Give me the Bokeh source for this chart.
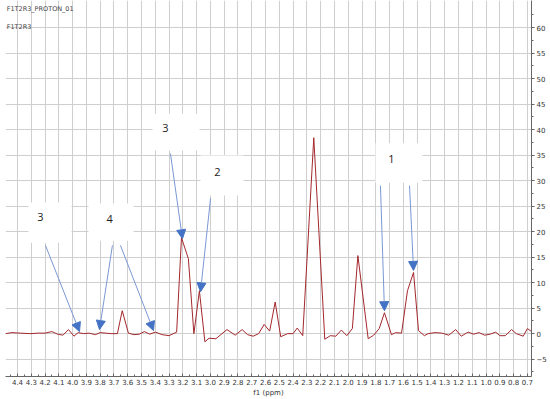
from bokeh.plotting import figure
from bokeh.models import (Range1d, FixedTicker, Label, Arrow, NormalHead, ColumnDataSource,
                          PrintfTickFormatter)
from bokeh.core.properties import value
from bokeh.embed import file_html
from bokeh.resources import INLINE

# ---- spectrum data (f1 ppm, intensity) ----
ppm = [4.487, 4.44, 4.38, 4.31, 4.25, 4.20, 4.15, 4.11, 4.07, 4.03, 3.99, 3.96, 3.92, 3.88,
       3.835, 3.80, 3.76, 3.72, 3.675, 3.64, 3.595, 3.555, 3.515, 3.48, 3.44, 3.40, 3.35,
       3.30, 3.245, 3.21, 3.16, 3.12, 3.08, 3.04, 3.01, 2.96, 2.88, 2.82, 2.77, 2.73, 2.69,
       2.65, 2.61, 2.57, 2.53, 2.49, 2.44, 2.40, 2.37, 2.33, 2.25, 2.17, 2.13, 2.09, 2.05,
       2.01, 1.97, 1.93, 1.855, 1.815, 1.775, 1.737, 1.686, 1.657, 1.613, 1.57, 1.526, 1.49,
       1.447, 1.42, 1.37, 1.32, 1.27, 1.22, 1.18, 1.13, 1.09, 1.05, 1.01, 0.97, 0.93, 0.90,
       0.86, 0.815, 0.78, 0.73, 0.70, 0.664]
intensity = [0.0, 0.2, 0.1, 0.0, 0.1, 0.1, 0.4, -0.1, -0.3, 0.8, -0.5, 0.2, 0.0, 0.1,
             -0.2, 0.2, 0.1, 0.0, 0.0, 4.5, 0.1, -0.2, -0.1, 0.4, -0.1, 0.3, -0.2,
             -0.4, 0.3, 18.8, 14.7, 0.0, 8.4, -1.6, -0.9, -1.0, 0.8, -0.3, 0.8, -0.2, -0.5,
             0.0, 1.8, 0.5, 6.2, -0.6, 0.0, 0.0, 1.1, -0.4, 38.4, -1.1, -0.4, -0.5, 0.7,
             -0.4, 1.0, 15.3, -1.0, -0.3, 1.0, 4.1, -0.2, 0.2, 0.1, 8.4, 12.0, 0.6,
             -0.4, 0.0, 0.2, 0.1, -0.3, 0.8, -0.5, 0.3, -0.1, 0.2, -0.3, -0.1, 0.3, -0.4,
             -0.4, 0.8, 0.0, -0.5, 1.0, 0.3]

# ---- axis ticks ----
x_ticks = [4.4, 4.3, 4.2, 4.1, 4.0, 3.9, 3.8, 3.7, 3.6, 3.5, 3.4, 3.3, 3.2, 3.1, 3.0,
           2.9, 2.8, 2.7, 2.6, 2.5, 2.4, 2.3, 2.2, 2.1, 2.0, 1.9, 1.8, 1.7, 1.6, 1.5,
           1.4, 1.3, 1.2, 1.1, 1.0, 0.9, 0.8, 0.7]
x_minor = [4.45, 4.35, 4.25, 4.15, 4.05, 3.95, 3.85, 3.75, 3.65, 3.55, 3.45, 3.35, 3.25,
           3.15, 3.05, 2.95, 2.85, 2.75, 2.65, 2.55, 2.45, 2.35, 2.25, 2.15, 2.05, 1.95,
           1.85, 1.75, 1.65, 1.55, 1.45, 1.35, 1.25, 1.15, 1.05, 0.95, 0.85, 0.75]
y_ticks = [-5, 0, 5, 10, 15, 20, 25, 30, 35, 40, 45, 50, 55, 60]
y_minor = [-7.5, -2.5, 2.5, 7.5, 12.5, 17.5, 22.5, 27.5, 32.5, 37.5, 42.5, 47.5, 52.5, 57.5, 62.5]

# ---- annotations: label boxes and arrows ----
box_text = ["3", "4", "3", "2", "1"]
box_left = [4.32, 3.885, 3.42, 3.072, 1.802]
box_right = [4.008, 3.558, 3.079, 2.76, 1.461]
box_top = [25.7, 25.5, 43.1, 34.9, 37.3]
box_bottom = [17.8, 18.2, 35.9, 27.1, 29.6]
text_x = [4.233, 3.732, 3.326, 2.949, 1.686]
text_y = [22.9, 22.5, 40.4, 31.6, 34.3]

arrow_x_start = [4.197, 3.711, 3.653, 3.29, 2.999, 1.766, 1.555]
arrow_y_start = [17.3, 17.3, 17.3, 35.3, 26.5, 29.0, 29.0]
arrow_x_end = [3.95, 3.805, 3.413, 3.203, 3.072, 1.737, 1.526]
arrow_y_end = [0.4, 0.8, 0.6, 18.6, 8.2, 4.5, 12.4]

TXT_FONT = "DejaVu Sans"

p = figure(frame_width=526, frame_height=376, output_backend="svg", toolbar_location=None,
           x_range=Range1d(4.487, 0.670), y_range=Range1d(-8.4, 65.3),
           y_axis_location="right", min_border_left=5, min_border_top=0,
           min_border_right=0, min_border_bottom=0)
p.outline_line_color = None

# x axis
xa = p.xaxis[0]
xa.ticker = FixedTicker(ticks=x_ticks, minor_ticks=x_minor)
xa.formatter = PrintfTickFormatter(format="%.1f")
xa.axis_label = "f1 (ppm)"
xa.axis_label_text_font = TXT_FONT
xa.axis_label_text_font_size = "7px"
xa.axis_label_text_font_style = "normal"
xa.axis_label_text_color = "#333333"
xa.axis_label_standoff = 1
xa.major_label_text_font = TXT_FONT
xa.major_label_text_font_size = "7px"
xa.major_label_text_color = "#333333"
xa.major_label_standoff = 2
xa.major_tick_in = 3
xa.major_tick_out = 0
xa.minor_tick_in = 2
xa.minor_tick_out = 0
xa.axis_line_color = "#666666"
xa.major_tick_line_color = "#666666"
xa.minor_tick_line_color = "#666666"

# y axis (right)
ya = p.yaxis[0]
ya.ticker = FixedTicker(ticks=y_ticks, minor_ticks=y_minor)
ya.major_label_text_font = TXT_FONT
ya.major_label_text_font_size = "7px"
ya.major_label_text_color = "#333333"
ya.major_label_standoff = 2
ya.major_tick_in = 0
ya.major_tick_out = 3
ya.minor_tick_in = 0
ya.minor_tick_out = 2
ya.axis_line_color = "#666666"
ya.major_tick_line_color = "#666666"
ya.minor_tick_line_color = "#666666"

# grids (follow the axis tickers)
p.xgrid.grid_line_color = "#cfcfcf"
p.ygrid.grid_line_color = "#cfcfcf"
p.xgrid.grid_line_width = 1
p.ygrid.grid_line_width = 1

# spectrum
p.line(ppm, intensity, line_color="#a3282c", line_width=1)

# label boxes
box_src = ColumnDataSource(dict(left=box_left, right=box_right, top=box_top, bottom=box_bottom,
                                tx=text_x, ty=text_y, t=box_text))
p.quad(left="left", right="right", top="top", bottom="bottom", source=box_src,
       fill_color="white", line_color=None)
p.text(x="tx", y="ty", text="t", source=box_src, text_font=value("Open Sans"),
       text_font_size="11px", text_color="#222222", text_align="center",
       text_baseline="middle")

# arrows
for xs, ys, xe, ye in zip(arrow_x_start, arrow_y_start, arrow_x_end, arrow_y_end):
    p.add_layout(Arrow(x_start=xs, y_start=ys, x_end=xe, y_end=ye,
                       line_color="#7a98d4", line_width=1,
                       end=NormalHead(size=9, fill_color="#4472c4", line_color="#4472c4")))

# top-left captions
p.add_layout(Label(x=4.478, y=63.7, text="F1T2R3_PROTON_01", text_font=TXT_FONT,
                   text_font_size="6.5px", text_color="#444444", text_baseline="middle"))
p.add_layout(Label(x=4.478, y=60.2, text="F1T2R3", text_font=TXT_FONT,
                   text_font_size="6.5px", text_color="#444444", text_baseline="middle"))

open("out.html", "w").write(file_html(p, INLINE))
